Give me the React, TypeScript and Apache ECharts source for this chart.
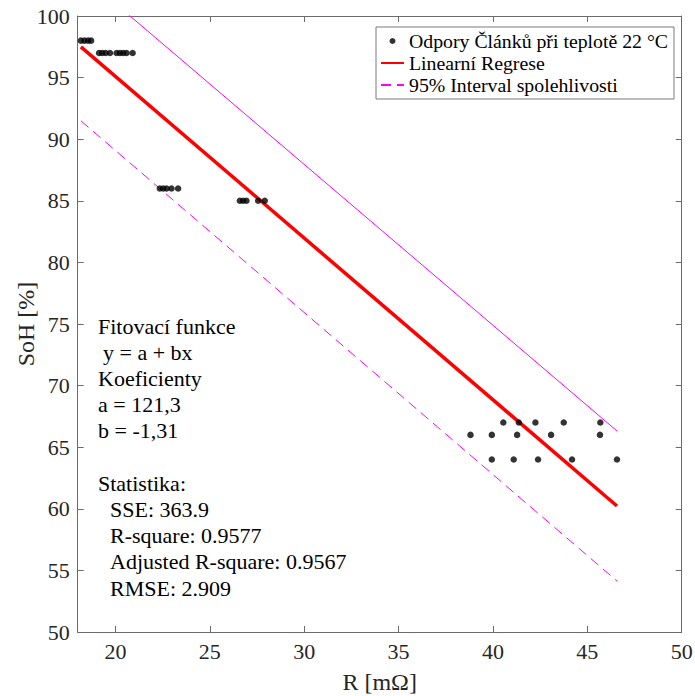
import React, { useEffect, useRef } from "react";
import * as echarts from "echarts";

// Measured data: resistance R [mΩ] and State of Health [%]
const rValues: number[] = [
  18.17, 18.36, 18.55, 18.71,
  19.13, 19.3, 19.48, 19.71, 20.06, 20.24, 20.41, 20.59, 20.91,
  22.35, 22.53, 22.71, 22.97, 23.32,
  26.59, 26.76, 26.94, 27.56, 27.91,
  40.55, 41.37, 42.25, 43.75, 45.69,
  38.81, 39.94, 41.28, 43.08, 45.67,
  39.94, 41.1, 42.39, 44.19, 46.57,
];
const sohValues: number[] = [
  98, 98, 98, 98,
  97, 97, 97, 97, 97, 97, 97, 97, 97,
  86, 86, 86, 86, 86,
  85, 85, 85, 85, 85,
  67, 67, 67, 67, 67,
  66, 66, 66, 66, 66,
  64, 64, 64, 64, 64,
];

// Regression line and confidence bounds (end points)
const fitX: number[] = [18.17, 46.57];
const fitY: number[] = [97.5, 60.23];
const lowerX: number[] = [18.17, 46.57];
const lowerY: number[] = [91.49, 54.14];
const upperX: number[] = [18.17, 46.57];
const upperY: number[] = [103.4, 66.32];

const xTicks: number[] = [20, 25, 30, 35, 40, 45, 50];

const scatterName = "Odpory Článků při teplotě 22 °C";
const fitName = "Linearní Regrese";
const ciName = "95% Interval spolehlivosti";

const annotationLines: { text: string; indent: number }[] = [
  { text: "Fitovací funkce", indent: 0 },
  { text: "y = a + bx", indent: 5 },
  { text: "Koeficienty", indent: 0 },
  { text: "a = 121,3", indent: 0 },
  { text: "b = -1,31", indent: 0 },
  { text: "", indent: 0 },
  { text: "Statistika:", indent: 0 },
  { text: "SSE: 363.9", indent: 12 },
  { text: "R-square: 0.9577", indent: 12 },
  { text: "Adjusted R-square: 0.9567", indent: 12 },
  { text: "RMSE: 2.909", indent: 12 },
];

const FONT = "'Liberation Serif', 'Times New Roman', serif";
const AXIS_COLOR = "#6b6b6b";
const LABEL_COLOR = "#262626";

export default function App() {
  const ref = useRef<HTMLDivElement>(null);
  useEffect(() => {
    if (!ref.current) return;
    const chart = echarts.init(ref.current, null, { renderer: "svg" });
    const zip = (xs: number[], ys: number[]) => xs.map((x, i) => [x, ys[i]]);

    const axisLine = { show: true, onZero: false, lineStyle: { color: AXIS_COLOR, width: 1 } };
    const tick = { show: true, inside: true, length: 6, lineStyle: { color: AXIS_COLOR, width: 1 } };
    const labelStyle = { fontFamily: FONT, fontSize: 22, color: LABEL_COLOR };

    const lineStartY = 326;
    const lineStep = 26.2;
    const graphicElems = annotationLines
      .map((l, i) => ({ l, i }))
      .filter(({ l }) => l.text.length > 0)
      .map(({ l, i }) => ({
        type: "text",
        x: 98 + l.indent,
        y: lineStartY + i * lineStep,
        style: {
          text: l.text,
          fontFamily: FONT,
          fontSize: 22,
          fill: "#000",
          verticalAlign: "middle",
          align: "left",
        },
      }));

    const hiddenSymbol = { color: "rgba(0,0,0,0)", opacity: 0, borderWidth: 0 };

    chart.setOption({
      animation: false,
      backgroundColor: "#fff",
      grid: {
        left: 77.7,
        right: 13.3,
        top: 16,
        bottom: 64,
        containLabel: false,
        outerBoundsMode: "none",
      },
      xAxis: [
        {
          type: "value",
          min: 18,
          max: 50,
          position: "bottom",
          axisLine,
          axisTick: { ...tick, customValues: xTicks },
          axisLabel: { ...labelStyle, margin: 8, customValues: xTicks },
          splitLine: { show: false },
          name: "R [mΩ]",
          nameLocation: "middle",
          nameGap: 38,
          nameMoveOverlap: false,
          nameTextStyle: { fontFamily: FONT, fontSize: 24, color: LABEL_COLOR },
        },
        {
          type: "value",
          min: 18,
          max: 50,
          position: "top",
          axisLine,
          axisTick: { ...tick, customValues: xTicks },
          axisLabel: { show: false, customValues: xTicks },
          splitLine: { show: false },
        },
      ],
      yAxis: [
        {
          type: "value",
          min: 50,
          max: 100,
          interval: 5,
          position: "left",
          axisLine,
          axisTick: tick,
          axisLabel: { ...labelStyle, margin: 8 },
          splitLine: { show: false },
          name: "SoH [%]",
          nameLocation: "middle",
          nameGap: 40,
          nameMoveOverlap: false,
          nameTextStyle: { fontFamily: FONT, fontSize: 24, color: LABEL_COLOR },
        },
        {
          type: "value",
          min: 50,
          max: 100,
          interval: 5,
          position: "right",
          axisLine,
          axisTick: tick,
          axisLabel: { show: false },
          splitLine: { show: false },
        },
      ],
      legend: {
        show: true,
        orient: "vertical",
        left: 376,
        top: 27,
        padding: [4, 6, 4, 4],
        itemGap: 2,
        itemWidth: 23,
        itemHeight: 6,
        backgroundColor: "#fff",
        borderColor: "#7a7a7a",
        borderWidth: 1,
        borderRadius: 0,
        selectedMode: false,
        textStyle: { fontFamily: FONT, fontSize: 19.8, color: "#000" },
        data: [
          { name: scatterName, icon: "circle" },
          { name: fitName, itemStyle: hiddenSymbol },
          { name: ciName, itemStyle: hiddenSymbol },
        ],
      },
      series: [
        {
          name: ciName,
          type: "line",
          data: zip(lowerX, lowerY),
          symbol: "none",
          lineStyle: { color: "#ff00ff", width: 1, type: [10, 6] },
          itemStyle: { color: "#ff00ff" },
          clip: true,
          z: 2,
        },
        {
          name: ciName,
          type: "line",
          data: zip(upperX, upperY),
          symbol: "none",
          lineStyle: { color: "#ff00ff", width: 1, type: "solid" },
          itemStyle: { color: "#ff00ff" },
          clip: true,
          z: 2,
        },
        {
          name: fitName,
          type: "line",
          data: zip(fitX, fitY),
          symbol: "none",
          lineStyle: { color: "#ff0000", width: 3.5 },
          itemStyle: { color: "#ff0000" },
          clip: true,
          z: 3,
        },
        {
          name: scatterName,
          type: "scatter",
          data: zip(rValues, sohValues),
          symbol: "circle",
          symbolSize: 6.5,
          itemStyle: { color: "#000" },
          z: 4,
        },
      ],
      graphic: graphicElems,
    });
    return () => chart.dispose();
  }, []);
  return (
    <div
      ref={ref}
      style={{ position: "fixed", left: 0, top: 0, width: 695, height: 696 }}
    />
  );
}
